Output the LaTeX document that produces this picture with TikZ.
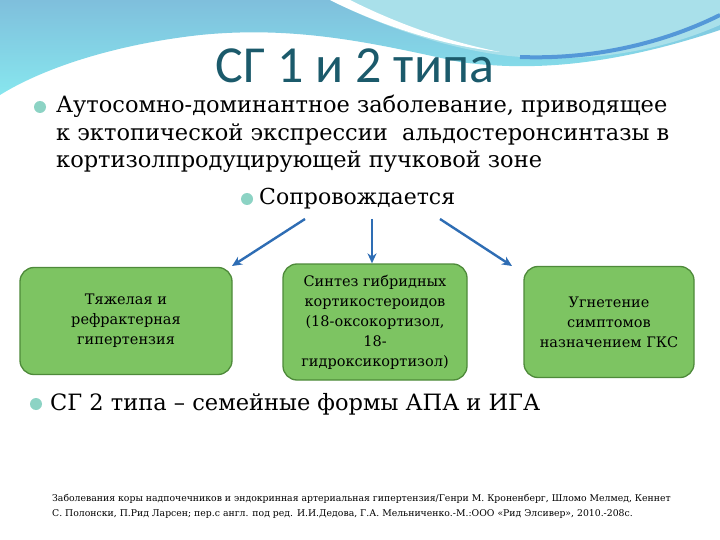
\documentclass[tikz,border=0pt]{standalone}
\usepackage{fontspec}
\setmainfont{DejaVu Serif}
\newfontfamily\titlefont{Carlito}
\usetikzlibrary{arrows.meta}
\definecolor{boxgreen}{HTML}{7DC462}
\definecolor{boxedge}{HTML}{4E8A3A}
\definecolor{arrowblue}{HTML}{2E6DB4}
\definecolor{bul}{HTML}{8CD3C4}
\definecolor{titlec}{HTML}{1B5A6B}
\definecolor{wave1}{HTML}{7FBFDC}
\definecolor{wave2}{HTML}{A9E0EA}
\tikzset{
 gbox/.style={draw=boxedge, fill=boxgreen, rounded corners=14pt, line width=1.3pt, align=center, font=\fontsize{14.5}{20}\selectfont, inner sep=2pt},
 arr/.style={-{Stealth[length=10pt,width=9pt]}, draw=arrowblue, line width=2.4pt},
 bullet/.style={circle, fill=bul, inner sep=0pt, minimum size=12pt}
}
\begin{document}
\begin{tikzpicture}[x=1pt,y=-1pt]
\useasboundingbox (0,0) rectangle (720,540);
\fill[white] (0,0) rectangle (720,540);
% wave
\shade[top color=wave1, bottom color=wave2!80!cyan] (0,0) -- (720,0) -- (720,30) .. controls (600,70) and (520,70) .. (460,62) .. controls (380,45) and (300,25) .. (200,35) .. controls (110,45) and (40,70) .. (0,95) -- cycle;
\fill[wave2] (330,0) -- (720,0) -- (720,25) .. controls (640,60) and (560,62) .. (500,55) .. controls (430,45) and (370,20) .. (330,0) -- cycle;
\fill[white] (330,0) .. controls (380,25) and (440,45) .. (500,52) .. controls (440,40) and (390,20) .. (350,0) -- cycle;
\draw[line width=4pt, color=cyan!60!blue!70] (520,57) .. controls (600,60) and (670,40) .. (720,15);
% title
\node[font=\titlefont\fontsize{52}{56}\selectfont, text=titlec] (title) at (355,66) {СГ 1 и 2 типа};
% bullet 1
\node[bullet] (b1) at (40,107) {};
\node[anchor=north west, align=left, font=\fontsize{22.5}{27.5}\selectfont, inner sep=0pt] (t1) at (56,95) {Аутосомно-доминантное заболевание, приводящее\\к эктопической экспрессии\ \ альдостеронсинтазы в\\кортизолпродуцирующей пучковой зоне};
\node[bullet] (b2) at (247,199) {};
\node[anchor=west, font=\fontsize{22}{24}\selectfont, inner sep=0pt] (t2) at (259,199) {Сопровождается};
% boxes
\node[gbox, minimum width=212pt, minimum height=107pt] (L) at (126,321) {Тяжелая и\\рефрактерная\\гипертензия};
\node[gbox, minimum width=184pt, minimum height=116pt] (M) at (375,322) {Синтез гибридных\\кортикостероидов\\(18-оксокортизол,\\18-\\гидроксикортизол)};
\node[gbox, minimum width=170pt, minimum height=111pt] (R) at (609,322) {Угнетение\\симптомов\\назначением ГКС};
\coordinate (sL) at (305,219);
\coordinate (sM) at (372,219);
\coordinate (sR) at (440,219);
\draw[arr] (sL) -- (232,266);
\draw[arr] (sM) -- (M.north -| sM);
\draw[arr] (sR) -- (512,266);
% bullet 3
\node[bullet] (b3) at (36,404) {};
\node[anchor=west, font=\fontsize{22.5}{26}\selectfont, inner sep=0pt] (t3) at (50,404) {СГ 2 типа – семейные формы АПА и ИГА};
% footnote
\node[anchor=north west, align=left, font=\fontsize{9.3}{15}\selectfont, inner sep=0pt] (fn) at (52,494) {Заболевания коры надпочечников и эндокринная артериальная гипертензия/Генри М. Кроненберг, Шломо Мелмед, Кеннет\\С. Полонски, П.Рид Ларсен; пер.с англ. под ред. И.И.Дедова, Г.А. Мельниченко.-М.:ООО «Рид Элсивер», 2010.-208с.};
\end{tikzpicture}
\end{document}
